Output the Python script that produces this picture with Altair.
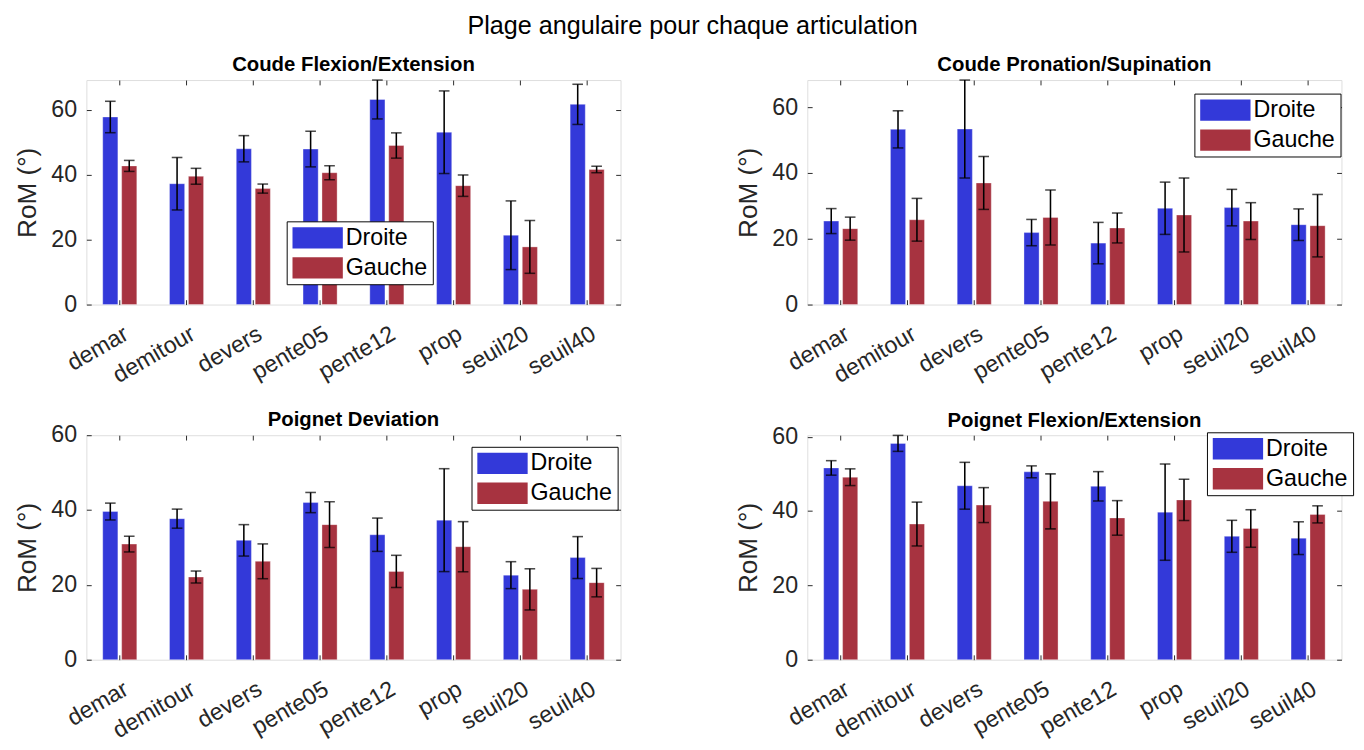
import altair as alt
import pandas as pd

FONT = "Liberation Sans"

categories = ["demar", "demitour", "devers", "pente05", "pente12", "prop", "seuil20", "seuil40"]
sides = ["Droite", "Gauche"]
side_colors = ["#3339D9", "#A73340"]
panel_titles = ["Coude Flexion/Extension", "Coude Pronation/Supination",
                "Poignet Deviation", "Poignet Flexion/Extension"]
main_title = "Plage angulaire pour chaque articulation"
y_title = "RoM (°)"
y_ticks = [0, 20, 40, 60]

# Coude Flexion/Extension
cfe_droite_mean = [57.9, 37.3, 48.1, 48.0, 63.3, 53.2, 21.4, 61.8]
cfe_droite_std = [4.85, 8.1, 4.05, 5.5, 6.0, 12.75, 10.6, 6.2]
cfe_gauche_mean = [42.8, 39.6, 35.8, 40.7, 49.1, 36.7, 17.8, 41.7]
cfe_gauche_std = [1.7, 2.45, 1.4, 2.15, 3.9, 3.3, 8.15, 1.0]

# Coude Pronation/Supination
cps_droite_mean = [25.4, 53.3, 53.4, 21.9, 18.7, 29.3, 29.5, 24.3]
cps_droite_std = [3.8, 5.65, 14.9, 4.0, 6.3, 7.95, 5.55, 4.8]
cps_gauche_mean = [23.1, 25.8, 37.0, 26.5, 23.3, 27.25, 25.4, 24.0]
cps_gauche_std = [3.5, 6.5, 8.05, 8.35, 4.55, 11.25, 5.6, 9.5]

# Poignet Deviation
pd_droite_mean = [39.6, 37.7, 31.9, 42.0, 33.4, 37.3, 22.6, 27.3]
pd_droite_std = [2.25, 2.55, 4.2, 2.7, 4.45, 13.75, 3.6, 5.6]
pd_gauche_mean = [30.9, 22.1, 26.3, 36.1, 23.6, 30.2, 18.8, 20.6]
pd_gauche_std = [2.1, 1.6, 4.65, 6.1, 4.3, 6.7, 5.5, 3.8]

# Poignet Flexion/Extension
pfe_droite_mean = [51.6, 58.2, 46.8, 50.55, 46.65, 39.7, 33.2, 32.7]
pfe_droite_std = [1.95, 2.15, 6.3, 1.6, 3.95, 12.95, 4.3, 4.4]
pfe_gauche_mean = [49.1, 36.5, 41.6, 42.6, 38.15, 43.0, 35.3, 39.1]
pfe_gauche_std = [2.25, 5.9, 4.7, 7.4, 4.65, 5.55, 5.05, 2.3]

y_max = [69.3, 68.3, 60.0, 60.4]
legend_pos = [(207, 146), (400, 14), (398, 12), (413, -3)]
title_offsets = [5, 5, -6, -6]

W, H = 552, 232
AXC = "#262626"
RECT = "M-2.364,-1H2.364V1H-2.364Z"


def panel(title, dm, ds, gm, gs, ymax, lpos, toff):
    df = pd.DataFrame({
        "cat": categories * 2,
        "side": [sides[0]] * len(categories) + [sides[1]] * len(categories),
        "mean": dm + gm,
        "std": ds + gs,
    })
    base = alt.Chart(df).transform_calculate(
        lo="datum.mean - datum.std", hi="datum.mean + datum.std"
    )
    xs = alt.Scale(domain=categories, paddingInner=0.433, paddingOuter=0.2165)
    ys = alt.Scale(domain=[0, ymax], nice=False, zero=True)
    xo = alt.XOffset("side:N", scale=alt.Scale(domain=sides, paddingInner=0.2, paddingOuter=0.1))

    bars = base.mark_bar(stroke="white", strokeOpacity=0.35, strokeWidth=1).encode(
        x=alt.X("cat:N", scale=xs, sort=categories, title=None,
                axis=alt.Axis(orient="bottom", tickSize=5, offset=-5, domain=False,
                              labelAngle=-30, labelAlign="right", labelBaseline="top",
                              labelFontSize=24, labelPadding=18, labelOffset=1,
                              labelOverlap=False, tickColor=AXC, labelColor=AXC,
                              labelFont=FONT, grid=False)),
        xOffset=xo,
        y=alt.Y("mean:Q", scale=ys, title=y_title,
                axis=alt.Axis(orient="left", values=y_ticks, tickSize=5, offset=-5,
                              domain=False, labelFontSize=24, labelPadding=10,
                              titleFontSize=27, titlePadding=10, titleFontWeight="normal",
                              tickColor=AXC, labelColor=AXC, titleColor=AXC,
                              labelFont=FONT, titleFont=FONT, grid=False)),
        color=alt.Color("side:N", scale=alt.Scale(domain=sides, range=side_colors),
                        legend=alt.Legend(orient="none", legendX=lpos[0], legendY=lpos[1],
                                          title=None, direction="vertical",
                                          symbolType=RECT, symbolSize=484,
                                          symbolOffset=15, labelOffset=17,
                                          symbolStrokeWidth=0, symbolOpacity=1,
                                          labelFontSize=24, labelFont=FONT,
                                          labelColor="black", padding=5, rowPadding=7,
                                          strokeColor="black", fillColor="white")),
    )
    rules = base.mark_rule(color="black", strokeWidth=1.6).encode(
        x=alt.X("cat:N", scale=xs, sort=categories, title=None,
                axis=alt.Axis(orient="top", labels=False, tickSize=5, offset=-5,
                              domain=False, tickColor=AXC, grid=False)),
        xOffset=xo,
        y=alt.Y("lo:Q", scale=ys, title=None,
                axis=alt.Axis(orient="right", values=y_ticks, labels=False, tickSize=5,
                              offset=-5, domain=False, tickColor=AXC, grid=False)),
        y2="hi:Q",
    )
    cap_lo = base.mark_tick(color="black", size=11, thickness=1.6).encode(
        x=alt.X("cat:N", scale=xs, sort=categories, axis=None),
        xOffset=xo,
        y=alt.Y("lo:Q", scale=ys, axis=None),
    )
    cap_hi = base.mark_tick(color="black", size=11, thickness=1.6).encode(
        x=alt.X("cat:N", scale=xs, sort=categories, axis=None),
        xOffset=xo,
        y=alt.Y("hi:Q", scale=ys, axis=None),
    )
    return alt.layer(bars, rules, cap_lo, cap_hi).resolve_axis(
        x="independent", y="independent"
    ).properties(
        width=W, height=H,
        title=alt.TitleParams(title, fontSize=21, fontWeight="bold", font=FONT,
                              color="black", offset=toff, anchor="middle"),
    )


panels = [
    panel(panel_titles[0], cfe_droite_mean, cfe_droite_std, cfe_gauche_mean, cfe_gauche_std,
          y_max[0], legend_pos[0], title_offsets[0]),
    panel(panel_titles[1], cps_droite_mean, cps_droite_std, cps_gauche_mean, cps_gauche_std,
          y_max[1], legend_pos[1], title_offsets[1]),
    panel(panel_titles[2], pd_droite_mean, pd_droite_std, pd_gauche_mean, pd_gauche_std,
          y_max[2], legend_pos[2], title_offsets[2]),
    panel(panel_titles[3], pfe_droite_mean, pfe_droite_std, pfe_gauche_mean, pfe_gauche_std,
          y_max[3], legend_pos[3], title_offsets[3]),
]

chart = alt.concat(
    *panels, columns=2,
    spacing={"row": 135, "column": 193},
    bounds="flush",
    title=alt.TitleParams(main_title, fontSize=26, fontWeight="normal", font=FONT,
                          color="black", anchor="middle", offset=15, dx=9),
).resolve_scale(color="independent").configure_view(
    stroke=AXC, strokeWidth=1
).configure(background="white").properties(
    padding={"left": 5, "top": -7, "right": 2, "bottom": 0}
)

chart.save("out.html", embed_options={"renderer": "svg", "actions": False})
